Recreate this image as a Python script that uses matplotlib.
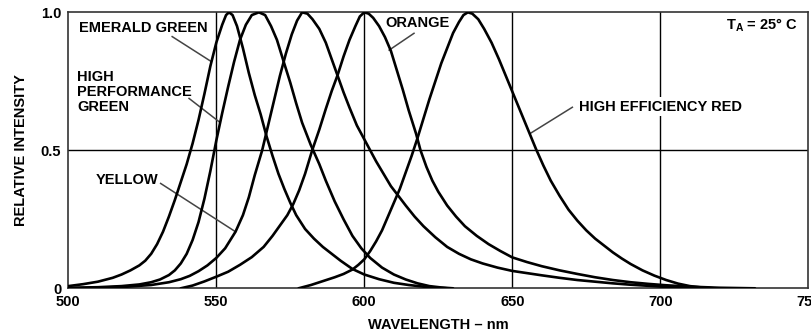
import matplotlib
matplotlib.use('Agg')
import matplotlib.pyplot as plt

plt.rcParams['font.family'] = ['Liberation Sans', 'DejaVu Sans']
plt.rcParams['font.weight'] = 'bold'
plt.rcParams['mathtext.fontset'] = 'custom'
plt.rcParams['mathtext.bf'] = 'Liberation Sans:bold'
plt.rcParams['mathtext.rm'] = 'Liberation Sans:bold'

# Spectral curves (wavelength nm, relative intensity)
emerald_wl = [500, 505, 510, 515, 518, 521, 524, 526, 528, 530, 532, 534, 536, 538, 540, 542,
              544, 546, 548, 550, 552, 553.3, 554.3, 555.5, 557, 559, 561, 563, 565, 567, 569,
              571, 573, 575, 577, 580, 583, 586, 589, 592, 596, 600, 605, 610, 615, 620, 628]
emerald_int = [0.008, 0.015, 0.024, 0.038, 0.05, 0.065, 0.083, 0.10, 0.125, 0.16, 0.205, 0.26,
               0.32, 0.385, 0.45, 0.525, 0.61, 0.705, 0.805, 0.89, 0.955, 0.99, 1.0, 0.99,
               0.95, 0.87, 0.78, 0.70, 0.63, 0.55, 0.48, 0.415, 0.36, 0.31, 0.265, 0.215,
               0.18, 0.15, 0.125, 0.1, 0.07, 0.05, 0.033, 0.02, 0.012, 0.006, 0.0]

hp_green_wl = [500, 510, 518, 524, 528, 531, 534, 536, 538, 540, 542, 544, 546, 548, 550, 552,
               554, 556, 558, 560, 562, 564.4, 566.5, 568.5, 570.5, 572.8, 575, 577, 579,
               581.9, 584.8, 587, 590, 593, 596, 599, 602, 606, 610, 614, 618, 622, 626, 630]
hp_green_int = [0.002, 0.004, 0.008, 0.014, 0.022, 0.032, 0.048, 0.065, 0.09, 0.125, 0.175,
                0.24, 0.325, 0.425, 0.535, 0.635, 0.73, 0.82, 0.9, 0.955, 0.99, 1.0, 0.99,
                0.95, 0.9, 0.82, 0.745, 0.67, 0.6, 0.52, 0.45, 0.39, 0.315, 0.25, 0.19, 0.145,
                0.11, 0.075, 0.05, 0.032, 0.018, 0.008, 0.003, 0.0]

yellow_wl = [500, 510, 520, 528, 534, 538, 541, 544, 547, 550, 553, 556.5, 559, 561, 563,
             565.5, 567.5, 569.5, 571.5, 573.5, 575.5, 577.3, 579, 580.8, 582.5, 584.8, 587,
             589, 591, 593, 595, 597.5, 600, 602, 604, 606.5, 609, 611.3, 614, 617, 620, 624,
             628, 632, 636, 640, 645, 650, 655, 660, 666, 672, 678, 684, 690, 696, 702, 708,
             713]
yellow_int = [0.0, 0.002, 0.006, 0.012, 0.022, 0.033, 0.045, 0.062, 0.083, 0.11, 0.145, 0.205,
              0.265, 0.33, 0.41, 0.5, 0.59, 0.68, 0.77, 0.85, 0.92, 0.97, 1.0, 0.995, 0.975,
              0.94, 0.89, 0.83, 0.77, 0.71, 0.655, 0.59, 0.54, 0.5, 0.46, 0.415, 0.37, 0.338,
              0.3, 0.26, 0.225, 0.185, 0.15, 0.125, 0.105, 0.09, 0.075, 0.063, 0.055, 0.047,
              0.038, 0.03, 0.024, 0.018, 0.013, 0.009, 0.005, 0.002, 0.0]

orange_wl = [538, 542, 546, 550, 554, 558, 562, 566, 569, 572, 574, 576, 578, 580, 582.4,
             584.8, 587, 589, 591, 593, 595, 597, 598.5, 600, 601.5, 603, 605, 607, 609, 611,
             613, 615, 617.5, 619, 621, 623, 625, 628, 631, 634, 638, 642, 646, 650, 655, 660,
             666, 672, 678, 684, 690, 696, 702, 710, 720, 732]
orange_int = [0.0, 0.01, 0.025, 0.042, 0.06, 0.085, 0.113, 0.15, 0.19, 0.235, 0.265, 0.305,
              0.355, 0.415, 0.5, 0.575, 0.65, 0.715, 0.773, 0.84, 0.9, 0.95, 0.985, 1.0,
              0.995, 0.98, 0.95, 0.91, 0.86, 0.79, 0.72, 0.645, 0.56, 0.5, 0.44, 0.39, 0.35,
              0.3, 0.26, 0.225, 0.19, 0.16, 0.135, 0.112, 0.095, 0.08, 0.065, 0.052, 0.04,
              0.03, 0.022, 0.016, 0.011, 0.006, 0.002, 0.0]

red_wl = [577.8, 582, 586, 590, 593, 596, 598, 600, 602, 604, 606, 608, 610, 612, 614, 616,
          618, 620, 622, 624, 626, 628, 630, 632, 633.5, 635, 636.5, 638.5, 640.5, 643,
          645.5, 648, 650.5, 653, 655.5, 658, 660.5, 663, 666, 669, 672, 675, 678, 681, 684,
          687, 690, 694, 698, 702, 706, 710, 714, 718]
red_int = [0.0, 0.012, 0.026, 0.04, 0.052, 0.068, 0.085, 0.105, 0.135, 0.17, 0.21, 0.26, 0.31,
           0.36, 0.42, 0.48, 0.545, 0.615, 0.685, 0.75, 0.815, 0.87, 0.925, 0.965, 0.99, 1.0,
           0.995, 0.975, 0.94, 0.89, 0.83, 0.765, 0.7, 0.635, 0.57, 0.505, 0.445, 0.39,
           0.335, 0.285, 0.245, 0.21, 0.18, 0.155, 0.13, 0.108, 0.088, 0.065, 0.046, 0.03,
           0.017, 0.008, 0.003, 0.0]

x_ticks = [500, 550, 600, 650, 700, 750]
y_ticks = [0, 0.5, 1.0]
y_tick_labels = ['0', '0.5', '1.0']

fig = plt.figure(figsize=(8.12, 3.32), dpi=100)
ax = fig.add_axes([0.0841, 0.1316, 0.9113, 0.8313])

# grid lines drawn under the curves
for xv in x_ticks[1:-1]:
    ax.axvline(xv, color='black', lw=1.0, zorder=1)
ax.axhline(0.5, color='black', lw=1.0, zorder=1)

for wl, inten in [(emerald_wl, emerald_int), (hp_green_wl, hp_green_int),
                  (yellow_wl, yellow_int), (orange_wl, orange_int), (red_wl, red_int)]:
    ax.plot(wl, inten, color='black', lw=1.9, solid_joinstyle='round',
            solid_capstyle='round', zorder=3)

ax.set_xlim(500, 750)
ax.set_ylim(0, 1.0)
ax.set_xticks(x_ticks)
ax.set_yticks(y_ticks)
ax.set_yticklabels(y_tick_labels)
ax.tick_params(length=0, labelsize=10.5)
ax.tick_params(axis='x', pad=5)
ax.tick_params(axis='y', pad=5)
for s in ax.spines.values():
    s.set_color('#333333')
    s.set_linewidth(1.2)

ax.set_xlabel('WAVELENGTH – nm', fontsize=10.5, fontweight='bold', labelpad=6)
ax.set_ylabel('RELATIVE INTENSITY', fontsize=10.5, fontweight='bold', labelpad=9)

# labels with leader lines
fs = 10.5
lead = dict(color='#444444', lw=1.1, zorder=2)
ax.text(503.5, 0.943, 'EMERALD GREEN', fontsize=fs, fontweight='bold', va='center')
ax.plot([535.1, 548.1], [0.912, 0.823], **lead)

ax.text(503.0, 0.712, 'HIGH\nPERFORMANCE\nGREEN', fontsize=fs, fontweight='bold',
        va='center', linespacing=1.1)
ax.plot([540.8, 550.9], [0.688, 0.604], **lead)

ax.text(509.2, 0.392, 'YELLOW', fontsize=fs, fontweight='bold', va='center')
ax.plot([531.2, 556.5], [0.380, 0.205], **lead)

ax.text(607.2, 0.96, 'ORANGE', fontsize=fs, fontweight='bold', va='center')
ax.plot([616.8, 608.4], [0.924, 0.863], **lead)

ax.text(672.6, 0.658, 'HIGH EFFICIENCY RED', fontsize=fs, fontweight='bold', va='center',
        zorder=4, bbox=dict(facecolor='white', edgecolor='none', pad=2))
ax.plot([670.3, 656.2], [0.656, 0.562], **lead)

ax.text(746.5, 0.955, r'T$_\mathbf{A}$ = 25° C', fontsize=fs, fontweight='bold',
        ha='right', va='center')

fig.savefig('out.png', dpi=100)
